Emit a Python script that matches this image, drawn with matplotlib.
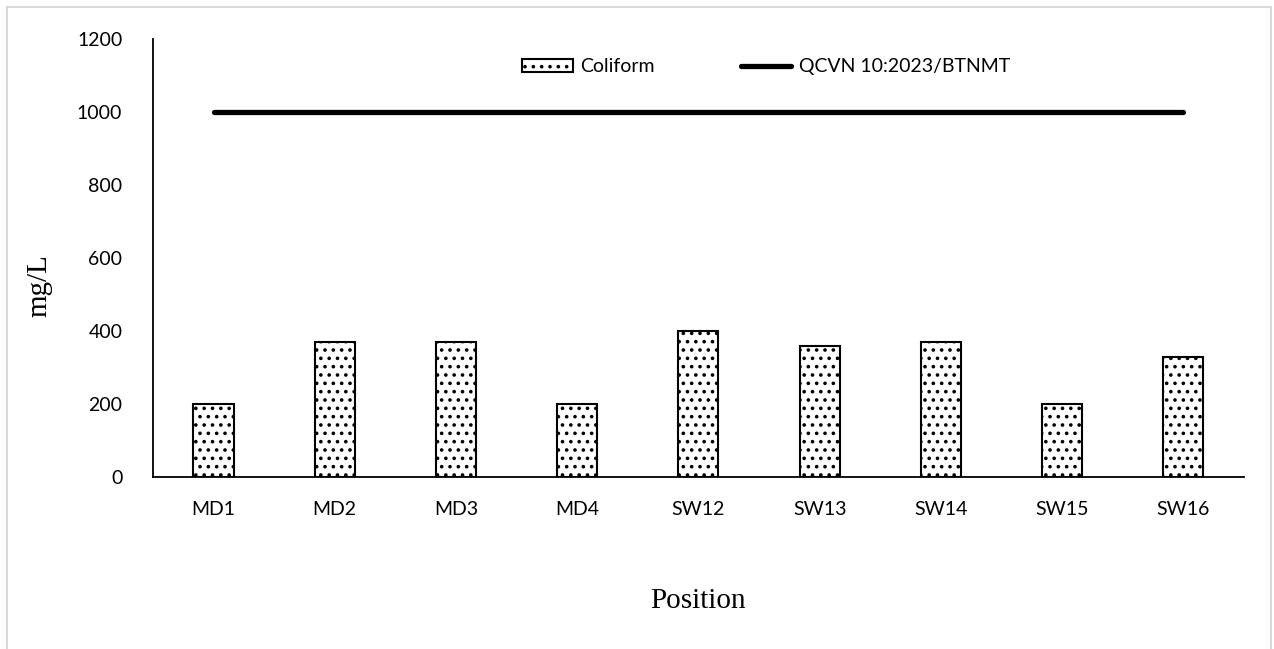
import matplotlib
matplotlib.use("Agg")
import matplotlib.pyplot as plt
from matplotlib.patches import Rectangle
import matplotlib as mpl

categories = ["MD1", "MD2", "MD3", "MD4", "SW12", "SW13", "SW14", "SW15", "SW16"]
coliform = [200, 370, 370, 200, 400, 360, 370, 200, 330]
qcvn = [1000] * len(categories)
yticks = [0, 200, 400, 600, 800, 1000, 1200]

mpl.rcParams['hatch.linewidth'] = 1.4
fig = plt.figure(figsize=(12.74, 6.49), dpi=100)
ax = fig.add_axes([0.120, 0.265, 0.8565, 0.675])

x = list(range(len(categories)))
bars = ax.bar(x, coliform, width=0.33, facecolor="white", edgecolor="black",
              linewidth=1.5, hatch="..", label="Coliform", zorder=2)
line, = ax.plot(x, qcvn, color="black", linewidth=3.8, solid_capstyle="round",
                label="QCVN 10:2023/BTNMT", zorder=3)

ax.set_xlim(-0.5, len(categories) - 0.5)
ax.set_ylim(0, 1200)
ax.set_yticks(yticks)
ax.set_xticks(x)
ax.set_xticklabels(categories)
for s in ["top", "right"]:
    ax.spines[s].set_visible(False)
ax.spines["left"].set_linewidth(1.3)
ax.spines["bottom"].set_linewidth(1.3)
ax.tick_params(axis="both", length=0, labelsize=14)
ax.tick_params(axis="y", pad=22)
ax.tick_params(axis="x", pad=17)
for lab in ax.get_xticklabels() + ax.get_yticklabels():
    lab.set_family("Lato")

ax.set_xlabel("Position", fontfamily="Liberation Serif", fontsize=21)
ax.set_ylabel("mg/L", fontfamily="Liberation Serif", fontsize=21)
ax.xaxis.set_label_coords(0.5, -0.283)
ax.yaxis.set_label_coords(-0.1036, 0.438)
ax.xaxis.label.set_va("center")
ax.yaxis.label.set_va("center")

leg = ax.legend([bars, line], ["Coliform", "QCVN 10:2023/BTNMT"],
                loc="center", bbox_to_anchor=(0.562, 0.936), ncol=2,
                frameon=False, handlelength=2.6, handleheight=0.6,
                columnspacing=4.4, handletextpad=0.4,
                prop={"family": "Lato", "size": 14})

fig.patches.append(Rectangle((7 / 1274, -0.01), (1271 - 7) / 1274, 1 - 7 / 649 + 0.01,
                             transform=fig.transFigure, fill=False,
                             edgecolor="#d9d9d9", linewidth=1.5))

fig.savefig("out.png", dpi=100, facecolor="white")
